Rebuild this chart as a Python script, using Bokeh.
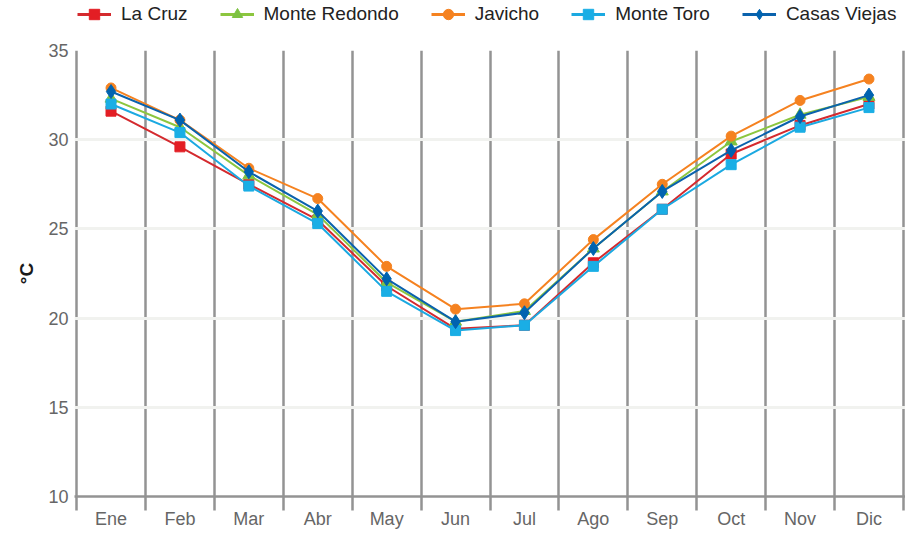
from bokeh.plotting import figure
from bokeh.layouts import column
from bokeh.models import FixedTicker, Range1d, Legend, LegendItem, ColumnDataSource
from bokeh.embed import file_html
from bokeh.resources import INLINE

months = ["Ene", "Feb", "Mar", "Abr", "May", "Jun", "Jul", "Ago", "Sep", "Oct", "Nov", "Dic"]
la_cruz       = [31.6, 29.6, 27.5, 25.5, 21.8, 19.4, 19.6, 23.1, 26.1, 29.2, 30.8, 32.0]
monte_redondo = [32.3, 30.7, 28.0, 25.8, 22.0, 19.8, 20.4, 23.9, 27.1, 29.9, 31.4, 32.4]
javicho       = [32.9, 31.1, 28.4, 26.7, 22.9, 20.5, 20.8, 24.4, 27.5, 30.2, 32.2, 33.4]
monte_toro    = [32.0, 30.4, 27.4, 25.3, 21.5, 19.3, 19.6, 22.9, 26.1, 28.6, 30.7, 31.8]
casas_viejas  = [32.7, 31.1, 28.2, 26.0, 22.2, 19.8, 20.3, 23.9, 27.1, 29.4, 31.3, 32.5]
y_ticks = [10, 15, 20, 25, 30, 35]

series = [
    ("La Cruz", la_cruz, "#d42a2e", "#e31e24", "square", 10),
    ("Monte Redondo", monte_redondo, "#8cc63f", "#7dc242", "triangle", 12),
    ("Javicho", javicho, "#f58220", "#f58220", "circle", 10),
    ("Monte Toro", monte_toro, "#1ba9e1", "#1aaee5", "square", 10),
    ("Casas Viejas", casas_viejas, "#0a62ad", "#0063b0", "diamond", 14),
]

FONT = "Liberation Sans"
x = [i + 0.5 for i in range(len(months))]
n = len(months)

# ---- legend strip (separate figure so it sits above the plot frame)
lg = figure(width=905, height=28, output_backend="svg", toolbar_location=None,
            x_range=Range1d(0, 1), y_range=Range1d(0, 1), min_border=0)
lg.outline_line_color = None
lg.axis.visible = False
lg.grid.visible = False

# ---- main chart
p = figure(width=905, height=503, output_backend="svg", toolbar_location=None,
           x_range=Range1d(-0.03, n + 0.03), y_range=Range1d(10, 35),
           min_border_left=74, min_border_right=0, min_border_top=22, min_border_bottom=0)
p.outline_line_color = None
p.background_fill_color = "white"
p.border_fill_color = "white"

items = []
for name, vals, lc, mc, marker, size in series:
    src = ColumnDataSource(dict(x=x, y=vals))
    p.line("x", "y", source=src, line_color=lc, line_width=2)
    p.scatter("x", "y", source=src, marker=marker, size=size, fill_color=mc, line_color=mc)
    # legend proxies (data lies outside the strip's ranges, so only the legend shows)
    l1 = lg.line("x", "y", source=src, line_color=lc, line_width=3)
    l2 = lg.scatter("x", "y", source=src, marker=marker, size=size, fill_color=mc, line_color=mc)
    items.append(LegendItem(label=name, renderers=[l1, l2]))

legend = Legend(items=items, orientation="horizontal", location=(3, 1),
                label_text_font=FONT, label_text_font_size="19px", label_text_color="#222222",
                glyph_width=34, glyph_height=26, label_standoff=10, spacing=32,
                padding=0, margin=0, border_line_color=None, background_fill_alpha=0)
lg.add_layout(legend, "center")

# x axis
p.xaxis.ticker = FixedTicker(ticks=x, minor_ticks=list(range(n + 1)))
p.xaxis.major_label_overrides = {v: m for v, m in zip(x, months)}
p.xaxis.major_tick_line_color = None
p.xaxis.major_tick_out = 0
p.xaxis.major_tick_in = 0
p.xaxis.minor_tick_out = 14
p.xaxis.minor_tick_in = 0
p.xaxis.minor_tick_line_color = "#939393"
p.xaxis.minor_tick_line_width = 2.5
p.xaxis.axis_line_color = "#939393"
p.xaxis.axis_line_width = 2.5
p.xaxis.major_label_text_font = FONT
p.xaxis.major_label_text_font_size = "18px"
p.xaxis.major_label_text_color = "#666666"
p.xaxis.major_label_text_line_height = 1.0
p.xaxis.major_label_standoff = -2

p.xgrid.ticker = FixedTicker(ticks=list(range(n + 1)))
p.xgrid.bounds = (-1, n + 1)
p.xgrid.grid_line_color = "#939393"
p.xgrid.grid_line_width = 2.5

# y axis
p.yaxis.ticker = FixedTicker(ticks=y_ticks)
p.yaxis.axis_line_color = None
p.yaxis.major_tick_line_color = None
p.yaxis.minor_tick_line_color = None
p.yaxis.major_label_text_font = FONT
p.yaxis.major_label_text_font_size = "18px"
p.yaxis.major_label_text_color = "#666666"
p.yaxis.major_label_standoff = 0
p.yaxis.axis_label = "°C"
p.yaxis.axis_label_text_font = FONT
p.yaxis.axis_label_text_font_size = "19px"
p.yaxis.axis_label_text_font_style = "bold"
p.yaxis.axis_label_text_color = "#1a1a1a"
p.yaxis.axis_label_standoff = 8

p.ygrid.ticker = FixedTicker(ticks=y_ticks[1:])
p.ygrid.grid_line_color = "#f1f2ef"
p.ygrid.grid_line_width = 3

layout = column(lg, p, spacing=0)
open("out.html", "w").write(file_html(layout, INLINE))
